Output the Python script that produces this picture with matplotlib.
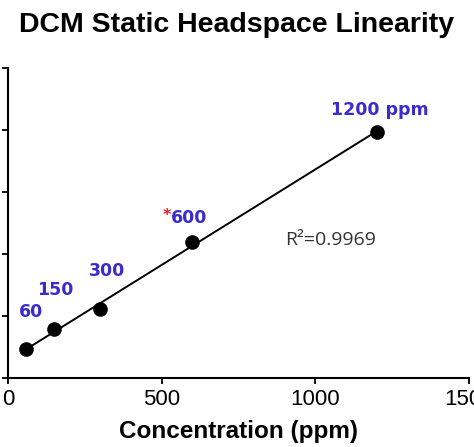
import numpy as np
import matplotlib.pyplot as plt

# concentrations (ppm) and detector response (arbitrary units)
conc = np.array([60, 150, 300, 600, 1200])
resp = np.array([4.7, 7.9, 11.1, 21.9, 39.7])
point_labels = ["60", "150", "300", "600", "1200 ppm"]
label_pos = [(75, 10.6), (153, 14.2), (322, 17.3), (530, 25.0), (1211, 43.2)]
label_ha = ["center", "center", "center", "left", "center"]
r2_text = "R²=0.9969"

BLUE = "#3b2bcc"
RED = "#e8202a"

plt.rcParams["font.family"] = ["Liberation Sans", "DejaVu Sans"]

fig = plt.figure(figsize=(4.74, 4.47), dpi=100)
ax = fig.add_axes([8 / 474, 69 / 447, 461 / 474, 310 / 447])

# linear fit line
k, b = np.polyfit(conc, resp, 1)
xl = np.array([conc.min(), conc.max()])
ax.plot(xl, k * xl + b, color="black", lw=1.4, zorder=2)
ax.plot(conc, resp, "o", color="black", ms=9.5, zorder=3)

for (x, y), lab, ha in zip(label_pos, point_labels, label_ha):
    va = "baseline" if ha == "left" else "center"
    ax.text(x, y, lab, color=BLUE, fontsize=12.5, fontweight="bold",
            family="DejaVu Sans", ha=ha, va=va)
# red asterisk in front of 600
ax.text(530, 25.5, "*", color=RED, fontsize=11.5, fontweight="bold",
        family="DejaVu Sans", ha="right", va="baseline")

ax.text(901, 22.3, r2_text, color="#333333", fontsize=14,
        family="Open Sans", ha="left", va="center")

ax.set_xlim(0, 1500)
ax.set_ylim(0, 50)
ax.set_xticks([0, 500, 1000, 1500])
ax.set_yticks([0, 10, 20, 30, 40, 50])
ax.tick_params(axis="both", direction="out", length=4, width=1.3,
               labelsize=16, pad=4)
for s in ["top", "right"]:
    ax.spines[s].set_visible(False)
for s in ["left", "bottom"]:
    ax.spines[s].set_linewidth(1.5)

ax.set_xlabel("Concentration (ppm)", fontsize=17.5, fontweight="bold", labelpad=7)
fig.text(0.5, 1 - 32 / 447, "DCM Static Headspace Linearity",
         fontsize=20.5, fontweight="bold", ha="center", va="baseline")

fig.savefig("out.png", dpi=100)
